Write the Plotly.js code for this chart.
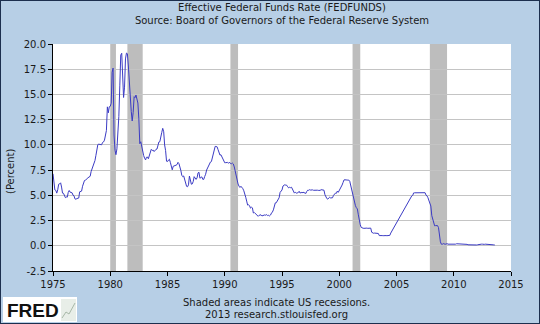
<!DOCTYPE html>
<html>
<head>
<meta charset="utf-8">
<script src="https://cdn.plot.ly/plotly-3.0.1.min.js"></script>
<style>
html,body{margin:0;padding:0;background:#1c2f4e;}
#chart{position:absolute;left:1px;top:1px;width:538px;height:322px;}
</style>
</head>
<body>
<div id="chart"></div>
<script>
// Monthly effective federal funds rate (percent), Jan 1975 onward
const firstMonth = [1975, 1];
const y1975 = [7.13,6.24,5.54,5.49,5.22,5.55,6.10,6.14,6.24,5.82,5.22,5.20];
const y1976 = [4.87,4.77,4.84,4.82,5.29,5.48,5.31,5.29,5.25,5.02,4.95,4.65];
const y1977 = [4.61,4.68,4.69,4.73,5.35,5.39,5.42,5.90,6.14,6.47,6.51,6.56];
const y1978 = [6.70,6.78,6.79,6.89,7.36,7.60,7.81,8.04,8.45,8.96,9.76,10.03];
const y1979 = [10.07,10.06,10.09,10.01,10.24,10.29,10.47,10.94,11.43,13.77,13.18,13.78];
const y1980 = [13.82,14.13,17.19,17.61,10.98,9.47,9.03,9.61,10.87,12.81,15.85,18.90];
const y1981 = [19.08,15.93,14.70,15.72,18.52,19.10,19.04,17.82,15.87,15.08,13.31,12.37];
const y1982 = [13.22,14.78,14.68,14.94,14.45,14.15,12.59,10.12,10.31,9.71,9.20,8.95];
const y1983 = [8.68,8.51,8.77,8.80,8.63,8.98,9.37,9.56,9.45,9.48,9.34,9.47];
const y1984 = [9.56,9.59,9.91,10.29,10.32,11.06,11.23,11.64,11.30,9.99,9.43,8.38];
const y1985 = [8.35,8.50,8.58,8.27,7.97,7.53,7.88,7.90,7.92,7.99,8.05,8.27];
const y1986 = [8.14,7.86,7.48,6.99,6.85,6.92,6.56,6.17,5.89,5.85,6.04,6.91];
const y1987 = [6.43,6.10,6.13,6.37,6.85,6.73,6.58,6.73,7.22,7.29,6.69,6.77];
const y1988 = [6.83,6.58,6.58,6.87,7.09,7.51,7.75,8.01,8.19,8.30,8.35,8.76];
const y1989 = [9.12,9.36,9.85,9.84,9.81,9.53,9.24,8.99,9.02,8.84,8.55,8.45];
const y1990 = [8.23,8.24,8.28,8.26,8.18,8.29,8.15,8.13,8.20,8.11,7.81,7.31];
const y1991 = [6.91,6.25,6.12,5.91,5.78,5.90,5.82,5.66,5.45,5.21,4.81,4.43];
const y1992 = [4.03,4.06,3.98,3.73,3.82,3.76,3.25,3.30,3.22,3.10,3.09,2.92];
const y1993 = [3.02,3.03,3.07,2.96,3.00,3.04,3.06,3.03,3.09,2.99,3.02,2.96];
const y1994 = [3.05,3.25,3.34,3.56,4.01,4.25,4.26,4.47,4.73,4.76,5.29,5.45];
const y1995 = [5.53,5.92,5.98,6.05,6.01,6.00,5.85,5.74,5.80,5.76,5.80,5.60];
const y1996 = [5.56,5.22,5.31,5.22,5.24,5.27,5.40,5.22,5.30,5.24,5.31,5.29];
const y1997 = [5.25,5.19,5.39,5.51,5.50,5.56,5.52,5.54,5.54,5.50,5.52,5.50];
const y1998 = [5.56,5.51,5.49,5.45,5.49,5.56,5.54,5.55,5.51,5.07,4.83,4.68];
const y1999 = [4.63,4.76,4.81,4.74,4.74,4.76,4.99,5.07,5.22,5.20,5.42,5.30];
const y2000 = [5.45,5.73,5.85,6.02,6.27,6.53,6.54,6.50,6.52,6.51,6.51,6.40];
const y2001 = [5.98,5.49,5.31,4.80,4.21,3.97,3.77,3.65,3.07,2.49,2.09,1.82];
const y2002 = [1.73,1.74,1.73,1.75,1.75,1.75,1.73,1.74,1.75,1.75,1.34,1.24];
const y2003 = [1.24,1.26,1.25,1.26,1.26,1.22,1.01,1.03,1.01,1.01,1.00,0.98];
const y2004 = [1.00,1.01,1.00,1.00,1.00,1.03,1.26,1.43,1.61,1.76,1.93,2.16];
const y2005 = [2.28,2.50,2.63,2.79,3.00,3.04,3.26,3.50,3.62,3.78,4.00,4.16];
const y2006 = [4.29,4.49,4.59,4.79,4.94,4.99,5.24,5.25,5.25,5.25,5.25,5.24];
const y2007 = [5.25,5.26,5.26,5.25,5.25,5.25,5.26,5.02,4.94,4.76,4.49,4.24];
const y2008 = [3.94,2.98,2.61,2.28,1.98,2.00,2.01,2.00,1.81,0.97,0.39,0.16];
const y2009 = [0.15,0.22,0.18,0.15,0.18,0.21,0.16,0.16,0.15,0.12,0.12,0.12];
const y2010 = [0.11,0.13,0.16,0.20,0.20,0.18,0.18,0.19,0.19,0.19,0.19,0.18];
const y2011 = [0.17,0.16,0.14,0.10,0.09,0.09,0.07,0.10,0.08,0.07,0.08,0.07];
const y2012 = [0.08,0.10,0.13,0.14,0.16,0.16,0.16,0.13,0.14,0.16,0.16,0.16];
const y2013 = [0.14,0.15,0.14,0.15,0.11,0.09,0.09,0.08];

const recessionStarts = ['1980-01-01','1981-07-01','1990-07-01','2001-03-01','2007-12-01'];
const recessionEnds   = ['1980-07-01','1982-11-01','1991-03-01','2001-11-01','2009-06-01'];

const yTickVals = [-2.5,0,2.5,5,7.5,10,12.5,15,17.5,20];
const xTickYears = [1975,1980,1985,1990,1995,2000,2005,2010,2015];

const rate = [].concat(y1975,y1976,y1977,y1978,y1979,y1980,y1981,y1982,y1983,y1984,
  y1985,y1986,y1987,y1988,y1989,y1990,y1991,y1992,y1993,y1994,y1995,y1996,y1997,
  y1998,y1999,y2000,y2001,y2002,y2003,y2004,y2005,y2006,y2007,y2008,y2009,y2010,
  y2011,y2012,y2013);
const dates = rate.map((v,i)=>{
  const m = firstMonth[1]-1+i;
  const yr = firstMonth[0]+Math.floor(m/12);
  const mo = (m%12)+1;
  return yr+'-'+String(mo).padStart(2,'0')+'-01';
});

const FONT = 'DejaVu Sans, Verdana, sans-serif';
const W = 538, H = 322;
const L = 52, R = W-510, T = 43, B = H-270;
const pw = W-L-R, ph = H-T-B;
const px = p => (p-1-L)/pw;           // page pixel x -> paper
const py = p => (H-B-(p-1))/ph;       // page pixel y -> paper

const shapes = recessionStarts.map((s,i)=>({
  type:'rect', xref:'x', yref:'paper', x0:s, x1:recessionEnds[i], y0:0, y1:1,
  fillcolor:'#bdbdbd', line:{width:0}, layer:'below'
}));
// FRED logo box
shapes.push({type:'rect', xref:'paper', yref:'paper', x0:px(3), x1:px(77), y0:py(322), y1:py(297),
  fillcolor:'#ffffff', line:{width:0}});
shapes.push({type:'rect', xref:'paper', yref:'paper', x0:px(61), x1:px(76), y0:py(321), y1:py(299),
  fillcolor:'#e8eee8', line:{width:0}});
shapes.push({type:'path', xref:'paper', yref:'paper',
  path:'M '+px(62)+' '+py(318)+' L '+px(66)+' '+py(312)+' L '+px(69)+' '+py(314)+' L '+px(75)+' '+py(303),
  line:{color:'#a8b8a8', width:1}});

const annotations = [
  {text:'Shaded areas indicate US recessions.', xref:'paper', yref:'paper', x:px(276), y:py(302),
   showarrow:false, font:{family:FONT, size:10, color:'#1a1a1a'}, xanchor:'center', yanchor:'middle'},
  {text:'2013 research.stlouisfed.org', xref:'paper', yref:'paper', x:px(276), y:py(314),
   showarrow:false, font:{family:FONT, size:10, color:'#1a1a1a'}, xanchor:'center', yanchor:'middle'},
  {text:'(Percent)', xref:'paper', yref:'paper', x:px(10), y:py(171), textangle:-90,
   showarrow:false, font:{family:FONT, size:10, color:'#1a1a1a'}, xanchor:'center', yanchor:'middle'},
  {text:'<b>FRED</b>', xref:'paper', yref:'paper', x:px(5), y:py(310),
   showarrow:false, font:{family:'Liberation Sans, Arial, sans-serif', size:19, color:'#111111'}, xanchor:'left', yanchor:'middle'}
];

const trace = {x:dates, y:rate, type:'scatter', mode:'lines',
  line:{color:'#3b3bc4', width:1}, hoverinfo:'skip'};

const layout = {
  width:W, height:H,
  paper_bgcolor:'#b7cfe6', plot_bgcolor:'#ffffff',
  margin:{l:L, r:R, t:T, b:B, pad:0},
  showlegend:false,
  title:{text:'Effective Federal Funds Rate (FEDFUNDS)<br>Source: Board of Governors of the Federal Reserve System',
    font:{family:FONT, size:10, color:'#1a1a1a'}, x:0.5, xref:'paper', y:0.97, yref:'container', yanchor:'top'},
  xaxis:{type:'date', range:['1975-01-01','2015-01-01'], tickvals:xTickYears.map(y=>y+'-01-01'),
    ticktext:xTickYears.map(String), ticks:'outside', ticklen:4, tickcolor:'#000', showline:true,
    linecolor:'#000', linewidth:1, showgrid:false, zeroline:false,
    tickfont:{family:FONT, size:10, color:'#1a1a1a'}},
  yaxis:{range:[-2.5,20], tickvals:yTickVals, ticktext:yTickVals.map(v=>v.toFixed(1)),
    ticks:'outside', ticklen:4, tickcolor:'#000', showline:true, linecolor:'#000', linewidth:1,
    showgrid:true, gridcolor:'#c4c4c4', gridwidth:1, zeroline:false,
    tickfont:{family:FONT, size:10, color:'#1a1a1a'}},
  shapes:shapes, annotations:annotations
};

Plotly.newPlot('chart', [trace], layout, {staticPlot:true, displayModeBar:false});
</script>
</body>
</html>
